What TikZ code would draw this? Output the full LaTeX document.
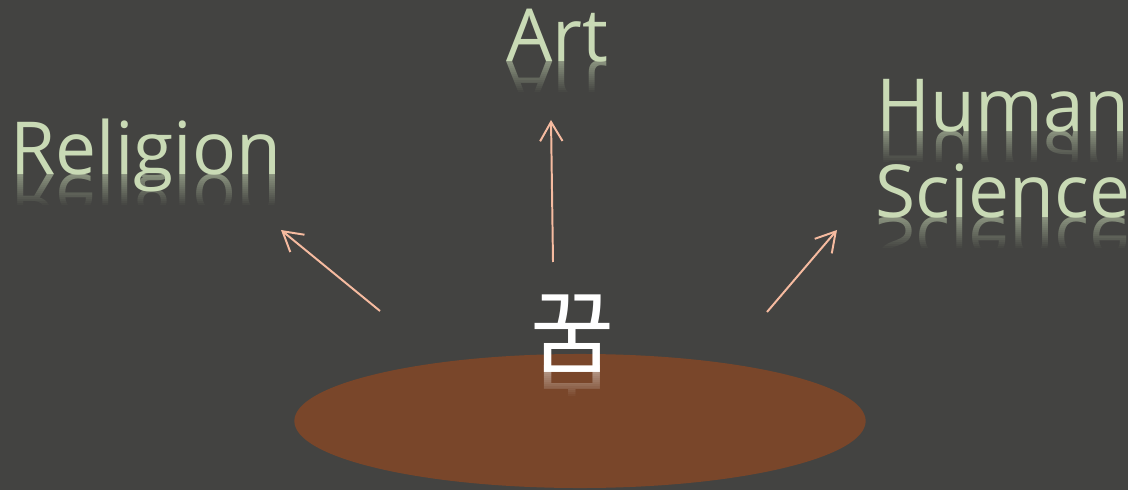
\documentclass[tikz,border=0pt]{standalone}
\usepackage{fontspec}
\setmainfont{Open Sans}
\newfontfamily\krfont{Noto Sans CJK KR}
\usetikzlibrary{shapes.geometric, arrows.meta, positioning, calc}

\definecolor{slatebg}{HTML}{434341}
\definecolor{dreamclay}{HTML}{79462A}
\definecolor{sage}{HTML}{C9DAB5}
\definecolor{peach}{HTML}{F6BBA0}

% #1 name, #2 style, #3 base point, #4 text, #5 cover colour
\newcommand{\mirrorword}[5]{%
  \begin{scope}
    \clip ($#3+(-300,0)$) rectangle ($#3+(300,95)$);
    \begin{scope}[shift={#3}, yscale=-1, transform shape]
      \node[#2, anchor=base, text opacity=0.55] (#1) at (0,0) {#4};
    \end{scope}
    \foreach \k [evaluate=\k as \op using \k/16] in {1,...,16}
      \fill[#5, opacity=\op] ($(#1.base west)+(0,2*\k-2)$) rectangle ($(#1.base east)+(0,2*\k)$);
    \fill[#5] ($(#1.base west)+(0,32)$) rectangle ($(#1.base east)+(0,95)$);
  \end{scope}
}

\begin{document}
\begin{tikzpicture}[
    x=0.025cm, y=-0.025cm,
    word/.style={text=sage, inner sep=1pt, font=\fontsize{52}{62}\selectfont},
    dreamword/.style={text=white, inner sep=1pt, font=\krfont\fontsize{65}{70}\selectfont},
    ground/.style={ellipse, fill=dreamclay, inner sep=0pt, minimum width=14.28cm, minimum height=3.35cm},
    arr/.style={-{Straight Barb[length=4.8mm, width=5.6mm]}, peach, line width=1.4pt}
]
\fill[slatebg] (0,0) rectangle (1128,490);
\useasboundingbox (0,0) rectangle (1128,490);

\node[ground] (ground) at (580,421) {};

\coordinate (art-base) at (557,62);
\coordinate (religion-base) at (146,175);
\coordinate (human-base) at (1003,132);
\coordinate (science-base) at (1003,218);
\coordinate (dream-base) at (573,366);

\mirrorword{art-m}{word}{(art-base)}{Art}{slatebg}
\mirrorword{religion-m}{word}{(religion-base)}{Religion}{slatebg}
\mirrorword{human-m}{word}{(human-base)}{Human}{slatebg}
\mirrorword{science-m}{word}{(science-base)}{Science}{slatebg}
\mirrorword{dream-m}{dreamword}{(dream-base)}{꿈}{dreamclay}

\node[word, anchor=base] (art) at (art-base) {Art};
\node[word, anchor=base] (religion) at (religion-base) {Religion};
\node[word, anchor=base] (human) at (human-base) {Human};
\node[word, anchor=base] (science) at (science-base) {Science};
\node[dreamword, anchor=base] (dream) at (dream-base) {꿈};

\coordinate (art-tail) at (553,262);
\coordinate (art-tip) at (551,120);
\coordinate (religion-tail) at (380,311);
\coordinate (religion-tip) at (281,230);
\coordinate (human-tail) at (767,312);
\coordinate (human-tip) at (837,230);

\draw[arr] (art-tail) -- (art-tip);
\draw[arr] (religion-tail) -- (religion-tip);
\draw[arr] (human-tail) -- (human-tip);
\end{tikzpicture}
\end{document}
